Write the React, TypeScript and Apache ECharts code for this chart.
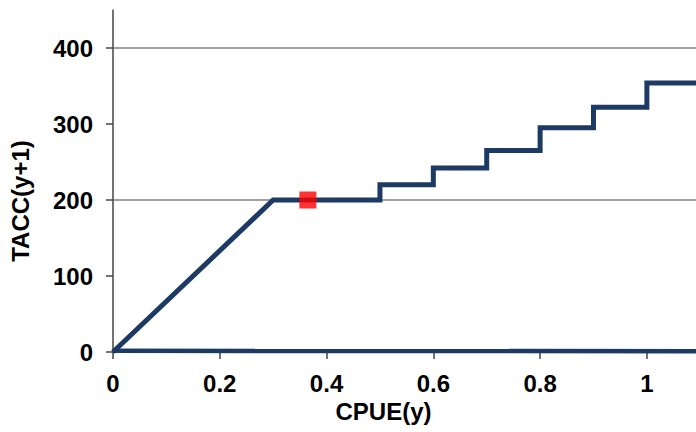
import React, { useEffect, useRef } from "react";
import * as echarts from "echarts";

const stepSeries: [number, number][] = [
  [0, 0],
  [0.3, 200],
  [0.5, 200],
  [0.5, 220],
  [0.6, 220],
  [0.6, 242],
  [0.7, 242],
  [0.7, 265],
  [0.8, 265],
  [0.8, 295],
  [0.9, 295],
  [0.9, 322],
  [1.0, 322],
  [1.0, 354],
  [1.1, 354],
];
const baseSeries: [number, number][] = [
  [0, 1.5],
  [1.1, 1],
];
const markerPoint: [number, number][] = [[0.365, 200]];
const xTicks = [0, 0.2, 0.4, 0.6, 0.8, 1];
const yTicks = [0, 100, 200, 300, 400];

const FONT = "'Liberation Sans', Arial, sans-serif";
const NAVY = "#1c3a63";

export default function App() {
  const ref = useRef<HTMLDivElement>(null);
  useEffect(() => {
    if (!ref.current) return;
    const chart = echarts.init(ref.current, null, { renderer: "svg" });
    chart.setOption({
      animation: false,
      backgroundColor: "#ffffff",
      grid: { left: 113, right: 0, top: 10, bottom: 80 },
      xAxis: {
        type: "value",
        min: 0,
        max: 1.092,
        name: "CPUE(y)",
        nameLocation: "middle",
        nameGap: 44,
        nameTextStyle: {
          fontFamily: FONT,
          fontSize: 24,
          fontWeight: "bold",
          color: "#000",
          padding: [0, 42, 0, 0],
        },
        axisLine: { show: true, onZero: false, lineStyle: { color: "#444", width: 1.5 } },
        axisTick: { show: true, length: 7, customValues: xTicks, lineStyle: { color: "#444", width: 1.5 } },
        axisLabel: {
          customValues: xTicks,
          margin: 19,
          fontFamily: FONT,
          fontSize: 24,
          fontWeight: "bold",
          color: "#000",
          formatter: (v: number) => String(Math.round(v * 10) / 10),
        },
        splitLine: { show: false },
      },
      yAxis: {
        type: "value",
        min: 0,
        max: 450,
        interval: 50,
        name: "TACC(y+1)",
        nameLocation: "middle",
        nameGap: 81,
        nameTextStyle: {
          fontFamily: FONT,
          fontSize: 24,
          fontWeight: "bold",
          color: "#000",
          padding: [0, 40, 0, 0],
        },
        axisLine: { show: true, lineStyle: { color: "#444", width: 1.5 } },
        axisTick: { show: true, length: 7, customValues: yTicks, lineStyle: { color: "#444", width: 1.5 } },
        axisLabel: {
          customValues: yTicks,
          margin: 20,
          fontFamily: FONT,
          fontSize: 24,
          fontWeight: "bold",
          color: "#000",
        },
        splitLine: {
          show: true,
          lineStyle: {
            color: ["transparent", "transparent", "#a0a0a0", "transparent", "#a0a0a0", "transparent", "#a0a0a0", "transparent", "#a0a0a0", "transparent"],
            width: 2,
          },
        },
      },
      series: [
        {
          type: "line",
          data: baseSeries,
          showSymbol: false,
          lineStyle: { color: NAVY, width: 4.5 },
          z: 3,
        },
        {
          type: "line",
          data: stepSeries,
          showSymbol: false,
          lineStyle: { color: NAVY, width: 5, join: "miter" },
          z: 3,
        },
        {
          type: "scatter",
          data: markerPoint,
          symbol: "rect",
          symbolSize: 17,
          itemStyle: { color: "#ff0000" },
          z: 5,
        },
      ],
    });
    return () => chart.dispose();
  }, []);
  return <div ref={ref} style={{ width: 696, height: 432, position: "absolute", left: 0, top: 0 }} />;
}
